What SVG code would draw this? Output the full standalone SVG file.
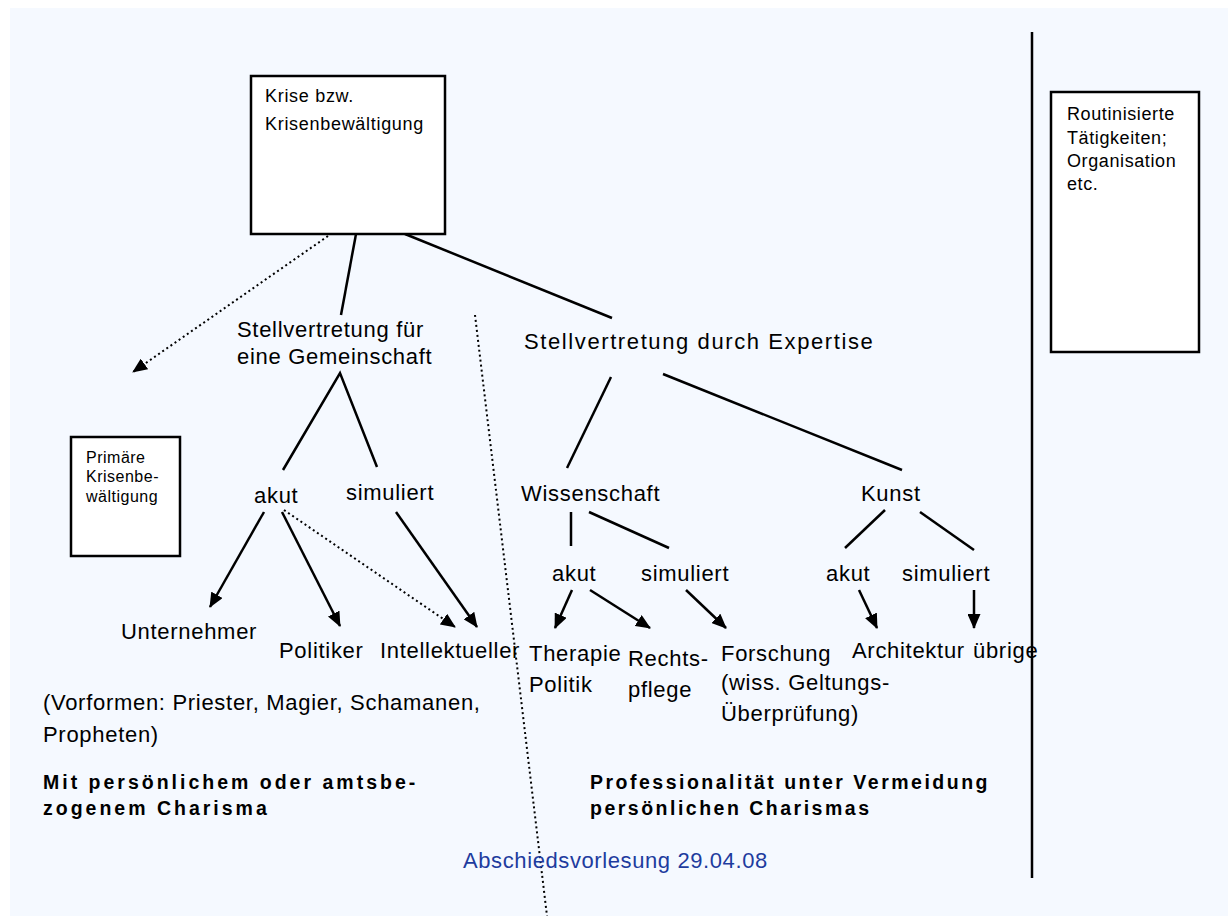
<svg xmlns="http://www.w3.org/2000/svg" width="1228" height="916" viewBox="0 0 1228 916">
<defs>
<style>
.bg{fill:#F5F9FF}
.box{fill:#FFFFFF;stroke:#000;stroke-width:2.5}
.ln{stroke:#000;stroke-width:2.5;fill:none}
.dot{stroke:#000;stroke-width:2;fill:none;stroke-dasharray:2 3}
.t{font-family:"Liberation Sans",Arial,sans-serif;font-size:22px;letter-spacing:0.7px;fill:#000}
.s{font-family:"Liberation Sans",Arial,sans-serif;font-size:18px;letter-spacing:0.7px;fill:#000}
.xs{font-family:"Liberation Sans",Arial,sans-serif;font-size:16px;letter-spacing:0.5px;fill:#000}
.b{font-family:"Liberation Sans",Arial,sans-serif;font-size:19.5px;font-weight:bold;letter-spacing:3px;fill:#000}
.f{font-family:"Liberation Sans",Arial,sans-serif;font-size:22px;letter-spacing:0.6px;fill:#1E3C9E}
</style>
<marker id="ah" markerUnits="userSpaceOnUse" markerWidth="15" markerHeight="13" refX="14" refY="6.5" orient="auto">
<path d="M0,0 L15,6.5 L0,13 z" fill="#000"/>
</marker>
</defs>
<rect class="bg" x="10" y="8" width="1218" height="908"/>

<g id="connectors">
<line class="ln" x1="356" y1="234" x2="341" y2="315"/>
<line class="ln" x1="405" y1="234" x2="612" y2="318"/>
<line class="dot" x1="328" y1="236" x2="133" y2="372" marker-end="url(#ah)"/>
<line class="dot" x1="475" y1="315" x2="547" y2="916"/>
<line class="ln" x1="1032" y1="32" x2="1032" y2="878"/>
<polyline class="ln" points="283,470 340,373 377,467"/>
<line class="ln" x1="264" y1="512" x2="210" y2="607" marker-end="url(#ah)"/>
<line class="ln" x1="282" y1="512" x2="340" y2="626" marker-end="url(#ah)"/>
<line class="dot" x1="284" y1="510" x2="455" y2="627" marker-end="url(#ah)"/>
<line class="ln" x1="396" y1="512" x2="477" y2="627" marker-end="url(#ah)"/>
<line class="ln" x1="611" y1="377" x2="567" y2="468"/>
<line class="ln" x1="663" y1="374" x2="902" y2="470"/>
<line class="ln" x1="571" y1="512" x2="571" y2="546"/>
<line class="ln" x1="589" y1="512" x2="669" y2="548"/>
<line class="ln" x1="885" y1="510" x2="845" y2="548"/>
<line class="ln" x1="920" y1="512" x2="974" y2="550"/>
<line class="ln" x1="572" y1="590" x2="555" y2="628" marker-end="url(#ah)"/>
<line class="ln" x1="590" y1="590" x2="650" y2="628" marker-end="url(#ah)"/>
<line class="ln" x1="686" y1="590" x2="726" y2="628" marker-end="url(#ah)"/>
<line class="ln" x1="859" y1="590" x2="877" y2="628" marker-end="url(#ah)"/>
<line class="ln" x1="974" y1="590" x2="974" y2="628" marker-end="url(#ah)"/>
</g>

<g id="krise">
<rect class="box" x="251" y="76" width="194" height="158"/>
<text class="s" x="265" y="102">Krise bzw.</text>
<text class="s" x="265" y="130">Krisenbewältigung</text>
</g>
<g id="routine">
<rect class="box" x="1051" y="92" width="148" height="260"/>
<text class="s" x="1067" y="120" style="letter-spacing:0.6px">Routinisierte</text>
<text class="s" x="1067" y="144" style="letter-spacing:0.6px">Tätigkeiten;</text>
<text class="s" x="1067" y="167" style="letter-spacing:0.6px">Organisation</text>
<text class="s" x="1067" y="190" style="letter-spacing:0.6px">etc.</text>
</g>
<g id="primaer">
<rect class="box" x="71" y="437" width="109" height="119"/>
<text class="xs" x="86" y="463">Primäre</text>
<text class="xs" x="86" y="482">Krisenbe-</text>
<text class="xs" x="86" y="502">wältigung</text>
</g>
<g id="gemeinschaft">
<text class="t" x="237" y="337">Stellvertretung für</text>
<text class="t" x="237" y="364">eine Gemeinschaft</text>
</g>
<g id="expertise"><text class="t" x="524" y="349" style="letter-spacing:1.6px">Stellvertretung durch Expertise</text></g>
<g id="akut1"><text class="t" x="254" y="503">akut</text></g>
<g id="sim1"><text class="t" x="346" y="500">simuliert</text></g>
<g id="unternehmer"><text class="t" x="121" y="639">Unternehmer</text></g>
<g id="politiker"><text class="t" x="279" y="658">Politiker</text></g>
<g id="intellektueller"><text class="t" x="380" y="658">Intellektueller</text></g>
<g id="wissenschaft"><text class="t" x="521" y="501">Wissenschaft</text></g>
<g id="kunst"><text class="t" x="861" y="501">Kunst</text></g>
<g id="akut2"><text class="t" x="552" y="581">akut</text></g>
<g id="sim2"><text class="t" x="641" y="581">simuliert</text></g>
<g id="akut3"><text class="t" x="826" y="581">akut</text></g>
<g id="sim3"><text class="t" x="902" y="581">simuliert</text></g>
<g id="therapie">
<text class="t" x="529" y="661">Therapie</text>
<text class="t" x="529" y="692">Politik</text>
</g>
<g id="recht">
<text class="t" x="628" y="666">Rechts-</text>
<text class="t" x="628" y="697">pflege</text>
</g>
<g id="forschung">
<text class="t" x="721" y="661">Forschung</text>
<text class="t" x="721" y="690">(wiss. Geltungs-</text>
<text class="t" x="721" y="721">Überprüfung)</text>
</g>
<g id="architektur"><text class="t" x="852" y="658">Architektur</text></g>
<g id="uebrige"><text class="t" x="973" y="658">übrige</text></g>
<g id="vorformen">
<text class="t" x="43" y="710">(Vorformen: Priester, Magier, Schamanen,</text>
<text class="t" x="43" y="742">Propheten)</text>
</g>
<g id="charisma1">
<text class="b" x="43" y="789">Mit persönlichem oder amtsbe-</text>
<text class="b" x="43" y="815">zogenem Charisma</text>
</g>
<g id="charisma2">
<text class="b" x="590" y="789" style="letter-spacing:2.5px">Professionalität unter Vermeidung</text>
<text class="b" x="590" y="815" style="letter-spacing:2.5px">persönlichen Charismas</text>
</g>
<g id="footer"><text class="f" x="463" y="868">Abschiedsvorlesung 29.04.08</text></g>
</svg>
